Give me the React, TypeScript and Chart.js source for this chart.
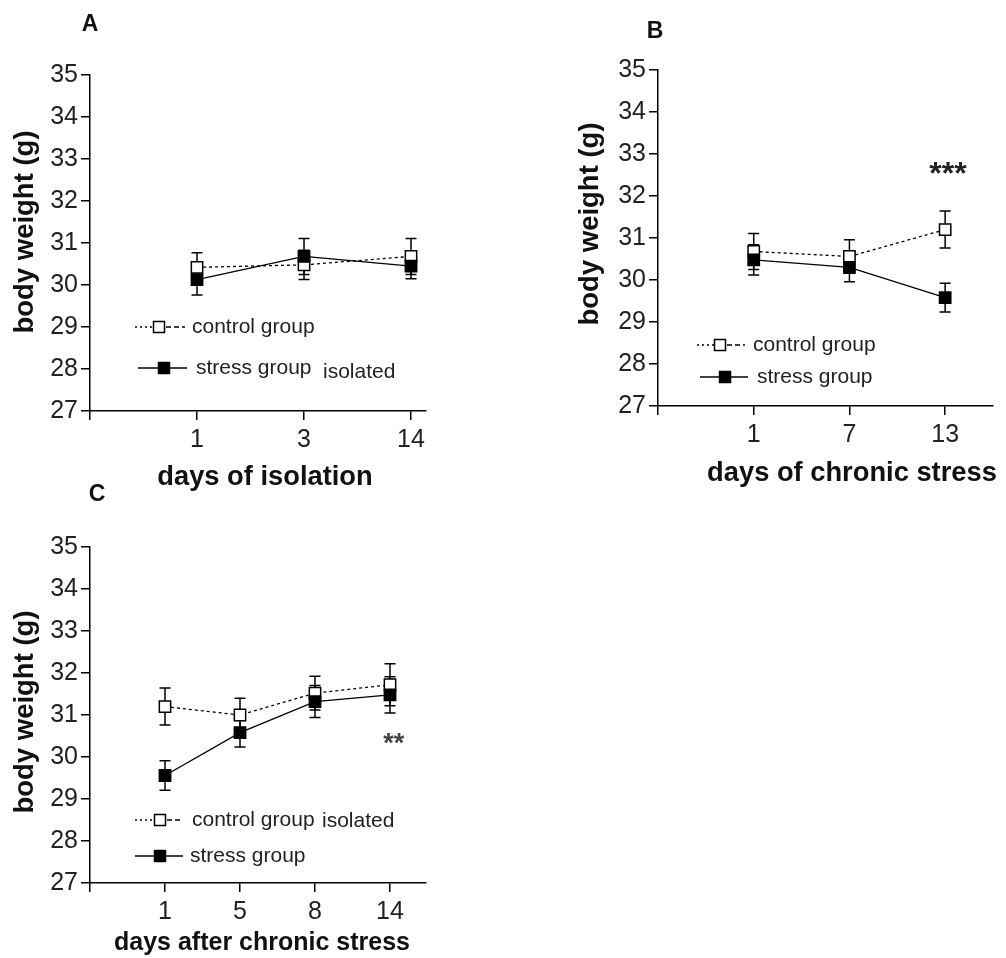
import React, { useEffect, useRef } from 'react';
import { Chart, registerables } from 'chart.js';

Chart.register(...registerables);

const FONT = "'Liberation Sans', Arial, Helvetica, sans-serif";

// A: body weight during isolation
const daysA = ['1', '3', '14'];
const controlA = [30.42, 30.48, 30.68];
const controlErrA = [0.35, 0.35, 0.43];
const stressA = [30.13, 30.68, 30.45];
const stressErrA = [0.37, 0.43, 0.3];

// B: body weight during chronic stress
const daysB = ['1', '7', '13'];
const controlB = [30.68, 30.56, 31.2];
const controlErrB = [0.43, 0.4, 0.44];
const stressB = [30.48, 30.3, 29.58];
const stressErrB = [0.36, 0.34, 0.34];

// C: body weight after chronic stress
const daysC = ['1', '5', '8', '14'];
const controlC = [31.2, 31.0, 31.52, 31.72];
const controlErrC = [0.44, 0.4, 0.4, 0.5];
const stressC = [29.56, 30.58, 31.32, 31.48];
const stressErrC = [0.35, 0.34, 0.38, 0.43];

const yTicksMin = 27;
const yTicksMax = 35;
const yTitle = 'body weight (g)';

type LegendRow = {
  kind: 'control' | 'stress';
  y: number;
  from: number;
  mark: number;
  to: number;
  textX: number;
  text: string;
  extra?: { text: string; x: number; dy: number };
};

type Panel = {
  letter: string;
  letterAt: [number, number];
  days: string[];
  control: number[];
  controlErr: number[];
  stress: number[];
  stressErr: number[];
  xTitle: string;
  xTitleAt: [number, number];
  xTitleSize: number;
  yTitleAt: [number, number];
  box: { left: number; top: number; width: number; height: number };
  area: { left: number; top: number; right: number; bottom: number };
  xMax: number;
  legend: LegendRow[];
  stars?: { text: string; x: number; y: number; size: number; color: string };
};

const panels: Panel[] = [
  {
    letter: 'A',
    letterAt: [90, 25],
    days: daysA,
    control: controlA,
    controlErr: controlErrA,
    stress: stressA,
    stressErr: stressErrA,
    xTitle: 'days of isolation',
    xTitleAt: [265, 477],
    xTitleSize: 27.3,
    yTitleAt: [25, 232],
    box: { left: 0, top: 0, width: 440, height: 493 },
    area: { left: 90, top: 75, right: 426, bottom: 411 },
    xMax: 3.14,
    legend: [
      { kind: 'control', y: 327, from: 135, mark: 159, to: 185, textX: 192, text: 'control group' },
      {
        kind: 'stress', y: 368, from: 138, mark: 164, to: 187, textX: 196, text: 'stress group',
        extra: { text: 'isolated', x: 323, dy: 4 },
      },
    ],
  },
  {
    letter: 'B',
    letterAt: [655, 32],
    days: daysB,
    control: controlB,
    controlErr: controlErrB,
    stress: stressB,
    stressErr: stressErrB,
    xTitle: 'days of chronic stress',
    xTitleAt: [852, 473],
    xTitleSize: 27.3,
    yTitleAt: [590, 224],
    box: { left: 560, top: 0, width: 446, height: 489 },
    area: { left: 658, top: 70, right: 993, bottom: 406 },
    xMax: 3.5,
    legend: [
      { kind: 'control', y: 345, from: 697, mark: 720, to: 745, textX: 753, text: 'control group' },
      { kind: 'stress', y: 377, from: 700, mark: 725, to: 748, textX: 757, text: 'stress group' },
    ],
    stars: { text: '***', x: 3.03, y: 32.5, size: 32, color: '#222' },
  },
  {
    letter: 'C',
    letterAt: [97, 495],
    days: daysC,
    control: controlC,
    controlErr: controlErrC,
    stress: stressC,
    stressErr: stressErrC,
    xTitle: 'days after chronic stress',
    xTitleAt: [262, 943],
    xTitleSize: 25,
    yTitleAt: [25, 712],
    box: { left: 0, top: 470, width: 440, height: 488 },
    area: { left: 90, top: 547, right: 426, bottom: 883 },
    xMax: 4.48,
    legend: [
      {
        kind: 'control', y: 820, from: 135, mark: 160, to: 183, textX: 192, text: 'control group',
        extra: { text: 'isolated', x: 322, dy: 1 },
      },
      { kind: 'stress', y: 856, from: 135, mark: 160, to: 183, textX: 190, text: 'stress group' },
    ],
    stars: { text: '**', x: 4.05, y: 30.3, size: 27, color: '#444' },
  },
];

function drawMarker(ctx: CanvasRenderingContext2D, x: number, y: number, filled: boolean) {
  const s = 11;
  ctx.setLineDash([]);
  ctx.lineWidth = 1.5;
  ctx.strokeStyle = '#000';
  ctx.fillStyle = filled ? '#000' : '#fff';
  ctx.fillRect(x - s / 2, y - s / 2, s, s);
  ctx.strokeRect(x - s / 2, y - s / 2, s, s);
}

function decorPlugin(p: Panel) {
  const ox = p.box.left;
  const oy = p.box.top;
  return {
    id: 'decor' + p.letter,
    beforeDatasetsDraw(chart: any) {
      const ctx: CanvasRenderingContext2D = chart.ctx;
      const xs = chart.scales.x;
      const ys = chart.scales.y;
      ctx.save();
      ctx.strokeStyle = '#000';
      ctx.lineWidth = 1.5;
      const groups: [number[], number[]][] = [
        [p.control, p.controlErr],
        [p.stress, p.stressErr],
      ];
      groups.forEach(([vals, errs]) => {
        vals.forEach((v, i) => {
          const x = xs.getPixelForValue(i + 1);
          const y1 = ys.getPixelForValue(v + errs[i]);
          const y2 = ys.getPixelForValue(v - errs[i]);
          ctx.beginPath();
          ctx.moveTo(x, y1);
          ctx.lineTo(x, y2);
          ctx.moveTo(x - 5.5, y1);
          ctx.lineTo(x + 5.5, y1);
          ctx.moveTo(x - 5.5, y2);
          ctx.lineTo(x + 5.5, y2);
          ctx.stroke();
        });
      });
      ctx.restore();
    },
    afterDraw(chart: any) {
      const ctx: CanvasRenderingContext2D = chart.ctx;
      ctx.save();
      // panel letter
      ctx.fillStyle = '#111';
      ctx.font = `bold 23px ${FONT}`;
      ctx.textAlign = 'center';
      ctx.textBaseline = 'middle';
      ctx.fillText(p.letter, p.letterAt[0] - ox, p.letterAt[1] - oy);

      // x axis title
      ctx.font = `bold ${p.xTitleSize}px ${FONT}`;
      ctx.fillText(p.xTitle, p.xTitleAt[0] - ox, p.xTitleAt[1] - oy);

      // y axis title
      ctx.save();
      ctx.translate(p.yTitleAt[0] - ox, p.yTitleAt[1] - oy);
      ctx.rotate(-Math.PI / 2);
      ctx.font = `bold 27.5px ${FONT}`;
      ctx.fillText(yTitle, 0, 0);
      ctx.restore();

      // legend
      ctx.font = `21px ${FONT}`;
      ctx.textAlign = 'left';
      ctx.textBaseline = 'middle';
      p.legend.forEach((row) => {
        const y = row.y - oy;
        ctx.strokeStyle = '#000';
        ctx.lineWidth = 1.3;
        if (row.kind === 'control') {
          ctx.setLineDash([2, 3]);
          ctx.beginPath();
          ctx.moveTo(row.from - ox, y);
          ctx.lineTo(row.mark - 6 - ox, y);
          ctx.stroke();
          ctx.setLineDash([5, 3]);
          ctx.beginPath();
          ctx.moveTo(row.mark + 7 - ox, y);
          ctx.lineTo(row.to - ox, y);
          ctx.stroke();
        } else {
          ctx.setLineDash([]);
          ctx.beginPath();
          ctx.moveTo(row.from - ox, y);
          ctx.lineTo(row.to - ox, y);
          ctx.stroke();
        }
        drawMarker(ctx, row.mark - ox, y, row.kind === 'stress');
        ctx.fillStyle = '#222';
        ctx.fillText(row.text, row.textX - ox, y);
        if (row.extra) {
          ctx.fillText(row.extra.text, row.extra.x - ox, y + row.extra.dy);
        }
      });

      // significance marks
      if (p.stars) {
        const xs = chart.scales.x;
        const ys = chart.scales.y;
        ctx.fillStyle = p.stars.color;
        ctx.font = `bold ${p.stars.size}px ${FONT}`;
        ctx.textAlign = 'center';
        ctx.textBaseline = 'middle';
        ctx.fillText(p.stars.text, xs.getPixelForValue(p.stars.x), ys.getPixelForValue(p.stars.y));
      }
      ctx.restore();
    },
  };
}

function buildConfig(p: Panel): any {
  const tickFont = { family: FONT, size: 25 };
  return {
    type: 'line',
    data: {
      datasets: [
        {
          label: 'stress group',
          data: p.stress.map((y, i) => ({ x: i + 1, y })),
          borderColor: '#000',
          borderWidth: 1.3,
          pointStyle: 'rect',
          pointRadius: 8,
          pointHoverRadius: 8,
          pointBackgroundColor: '#000',
          pointBorderColor: '#000',
          pointBorderWidth: 1.5,
          fill: false,
          tension: 0,
        },
        {
          label: 'control group',
          data: p.control.map((y, i) => ({ x: i + 1, y })),
          borderColor: '#000',
          borderWidth: 1.3,
          borderDash: [3, 3],
          pointStyle: 'rect',
          pointRadius: 8,
          pointHoverRadius: 8,
          pointBackgroundColor: '#fff',
          pointBorderColor: '#000',
          pointBorderWidth: 1.5,
          fill: false,
          tension: 0,
        },
      ],
    },
    options: {
      responsive: false,
      animation: false,
      events: [],
      layout: {
        padding: {
          left: 0,
          top: p.area.top - p.box.top,
          right: p.box.left + p.box.width - p.area.right,
          bottom: 0,
        },
      },
      plugins: {
        legend: { display: false },
        tooltip: { enabled: false },
      },
      scales: {
        x: {
          type: 'linear',
          min: 0,
          max: p.xMax,
          afterBuildTicks: (scale: any) => {
            scale.ticks = [0, ...p.days.map((_, i) => i + 1)].map((v) => ({ value: v }));
          },
          afterFit: (scale: any) => {
            scale.height = p.box.top + p.box.height - p.area.bottom;
          },
          ticks: {
            autoSkip: false,
            maxRotation: 0,
            padding: 5,
            color: '#222',
            font: tickFont,
            callback: (v: number) => (v >= 1 ? p.days[v - 1] : ''),
          },
          grid: {
            drawOnChartArea: false,
            drawTicks: true,
            tickLength: 9,
            color: '#000',
            lineWidth: 1.5,
          },
          border: { display: true, color: '#000', width: 1.5 },
          title: { display: false },
        },
        y: {
          type: 'linear',
          min: yTicksMin,
          max: yTicksMax,
          afterFit: (scale: any) => {
            scale.width = p.area.left - p.box.left;
          },
          ticks: {
            stepSize: 1,
            padding: 3,
            color: '#222',
            font: tickFont,
          },
          grid: {
            drawOnChartArea: false,
            drawTicks: true,
            tickLength: 9,
            color: '#000',
            lineWidth: 1.5,
          },
          border: { display: true, color: '#000', width: 1.5 },
          title: { display: false },
        },
      },
    },
    plugins: [decorPlugin(p)],
  };
}

function PanelChart({ p }: { p: Panel }) {
  const ref = useRef<HTMLCanvasElement>(null);
  useEffect(() => {
    if (!ref.current) return;
    const chart = new Chart(ref.current, buildConfig(p));
    return () => chart.destroy();
  }, [p]);
  return (
    <canvas
      ref={ref}
      width={p.box.width}
      height={p.box.height}
      style={{
        position: 'absolute',
        left: p.box.left,
        top: p.box.top,
        width: p.box.width,
        height: p.box.height,
      }}
    />
  );
}

export default function App() {
  return (
    <div
      style={{
        position: 'absolute',
        left: 0,
        top: 0,
        width: 1006,
        height: 958,
        background: '#fff',
        overflow: 'hidden',
      }}
    >
      {panels.map((p) => (
        <PanelChart key={p.letter} p={p} />
      ))}
    </div>
  );
}
